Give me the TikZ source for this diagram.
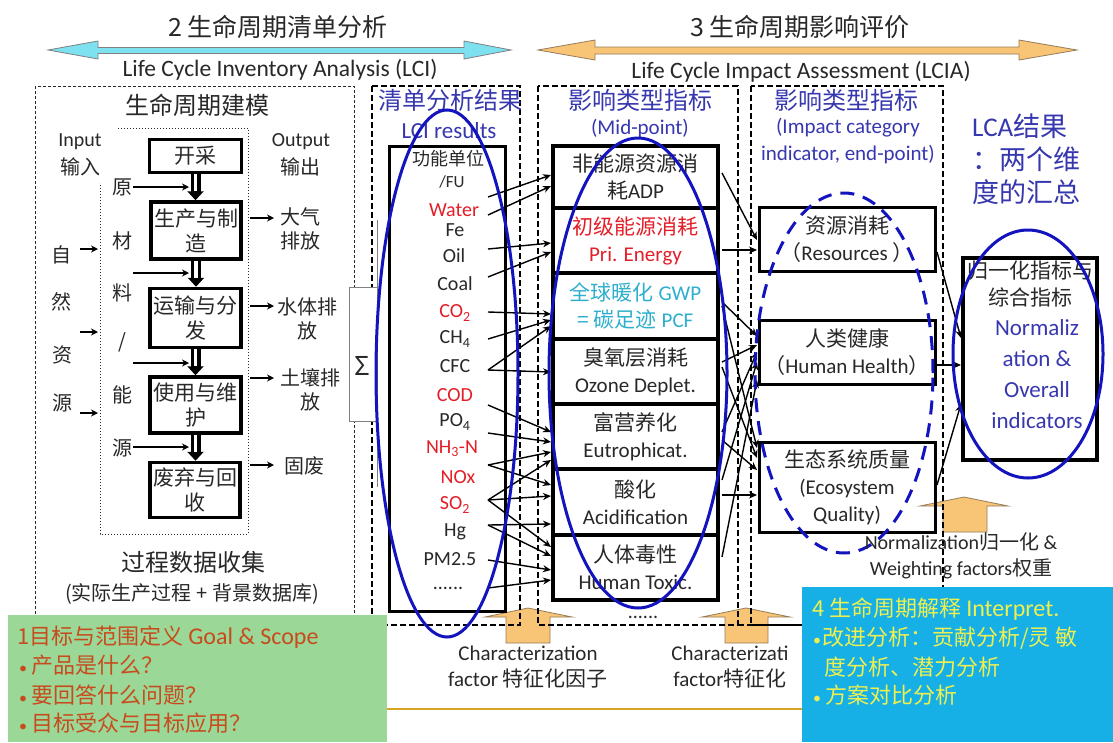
\documentclass[tikz,border=0pt]{standalone}
\usepackage{fontspec}
\setmainfont{Noto Sans CJK SC}
\newfontfamily\lat{Carlito}
\usetikzlibrary{arrows.meta}
\definecolor{tgray}{RGB}{40,40,40}
\definecolor{tblue}{RGB}{55,55,175}
\definecolor{eblue}{RGB}{20,20,190}
\definecolor{tred}{RGB}{228,30,40}
\definecolor{tcyan}{RGB}{45,175,205}
\definecolor{cyanfill}{RGB}{125,225,240}
\definecolor{orfill}{RGB}{248,196,118}
\definecolor{orline}{RGB}{150,125,90}
\definecolor{grfill}{RGB}{155,215,150}
\definecolor{grtext}{RGB}{200,75,30}
\definecolor{bxfill}{RGB}{22,175,230}
\definecolor{ytext}{RGB}{238,240,80}
\definecolor{gold}{RGB}{215,165,35}
\newcommand\fsz[2]{\fontsize{#1}{#2}\selectfont}
\newcommand\bul{{\lat\fsz{16}{16}•}}
\begin{document}
\begin{tikzpicture}[x=1pt,y=-1pt,
 lbl/.style={inner sep=0pt, text=tgray, align=center},
 blbl/.style={inner sep=0pt, text=tblue, align=center},
 pbox/.style={draw=black, line width=3.5pt, inner sep=0pt, align=center, text=tgray, font=\fsz{21}{25}},
 mbox/.style={draw=black, line width=4pt, inner sep=0pt, align=center, text=tgray, minimum width=165pt, font=\fsz{21}{27}},
 ebox/.style={draw=black, line width=3pt, inner sep=0pt, align=center, text=tgray, minimum width=176pt, font=\fsz{21}{27}},
 arr/.style={draw=black, line width=1.4pt, -{Stealth[length=8pt,width=7pt]}},
 sarr/.style={draw=black, line width=1.6pt, -{Stealth[length=7pt,width=7pt]}},
 dblo/.style={draw=black, line width=10pt, -{Triangle[length=9pt,width=16pt]}},
 dbli/.style={draw=white, line width=3.5pt, shorten >=9pt},
 dframe/.style={draw=black, line width=1.5pt, dash pattern=on 6pt off 3pt},
 blockup/.style={draw=orline, line width=0.8pt, fill=orfill},
 item/.style={lbl, font=\lat\fsz{20}{20}},
 ritem/.style={item, text=tred},
 ell/.style={draw=eblue, line width=3pt},
 side/.style={lbl, font=\fsz{20}{24}},
 gtxt/.style={anchor=west, inner sep=0pt, text=grtext, font=\fsz{22}{22}},
 ytxt/.style={anchor=west, inner sep=0pt, text=ytext, font=\fsz{22}{22}},
]
\useasboundingbox (0,0) rectangle (1113,742);
\fill[white] (0,0) rectangle (1113,742);

% ---------- headers
\node[lbl, font=\fsz{25}{25}] (h2) at (278,27) {2 生命周期清单分析};
\draw[draw=gray, line width=0.8pt, fill=cyanfill] (48,50) -- (98,41) -- (98,47.5) -- (464,47.5) -- (464,41) -- (511,50) -- (464,59) -- (464,53.5) -- (98,53.5) -- (98,59) -- cycle;
\node[lbl, font=\lat\fsz{23.5}{24}] (h2e) at (280,70) {Life Cycle Inventory Analysis (LCI)};
\node[lbl, font=\fsz{25}{25}] (h3) at (800,27) {3 生命周期影响评价};
\draw[draw=orline, line width=0.8pt, fill=orfill] (538,50) -- (595,40) -- (595,47) -- (1019,47) -- (1019,40) -- (1077,50) -- (1019,60) -- (1019,54) -- (595,54) -- (595,60) -- cycle;
\node[lbl, font=\lat\fsz{23.5}{24}] (h3e) at (801,72) {Life Cycle Impact Assessment (LCIA)};

% ---------- orange block arrows (behind frames)
\draw[blockup] (528,608) -- (572,617) -- (550,617) -- (550,643) -- (506,643) -- (506,617) -- (485,617) -- cycle;
\draw[blockup] (746,608) -- (790,617) -- (768,617) -- (768,643) -- (725,643) -- (725,617) -- (702,617) -- cycle;
\draw[blockup] (964,497) -- (1008,506) -- (987,506) -- (987,532) -- (943,532) -- (943,506) -- (920,506) -- cycle;

% ---------- frames
\draw[tgray, line width=0.8pt, dash pattern=on 3pt off 2pt] (35,86) rectangle (354,660);
\draw[dframe] (372,86) rectangle (520,625);
\draw[dframe] (538,86) rectangle (738,625);
\draw[dframe] (751,86) rectangle (943,625);
\draw[dframe] (738,625) -- (802,625);

% ---------- life cycle modelling
\node[lbl, font=\fsz{24}{24}] (lm) at (197,105) {生命周期建模};
\draw[tgray, line width=1pt, dotted] (118,128) -- (248,128) -- (248,534) -- (100,534) -- (100,183);
\node[lbl, font=\lat\fsz{20}{20}] (inp) at (80,142) {Input};
\node[lbl, font=\fsz{20}{20}] (inp2) at (80,167) {输入};
\node[lbl, font=\lat\fsz{20}{20}] (outp) at (301,142) {Output};
\node[lbl, font=\fsz{20}{20}] (outp2) at (300,167) {输出};

\node[pbox, minimum width=92pt, minimum height=33pt] (p1) at (195.5,156) {开采};
\node[pbox, minimum width=90pt, minimum height=57pt] (p2) at (196,230.5) {生产与制\\造};
\node[pbox, minimum width=91pt, minimum height=59pt] (p3) at (195.5,318) {运输与分\\发};
\node[pbox, minimum width=91pt, minimum height=56pt] (p4) at (195.5,405) {使用与维\\护};
\node[pbox, minimum width=90pt, minimum height=55pt] (p5) at (195,490) {废弃与回\\收};
\foreach \a/\b in {p1/p2,p2/p3,p3/p4,p4/p5}{
  \draw[dblo] (\a.south) -- (\a.south |- \b.north);
  \draw[dbli] (\a.south) -- (\a.south |- \b.north);
}

% natural resources column
\node[side] (n1) at (61,255) {自};
\node[side] (n2) at (61,302) {然};
\node[side] (n3) at (62,355) {资};
\node[side] (n4) at (62,403) {源};
\foreach \y [count=\n] in {249,332,413}{
  \coordinate (na\n) at (80,\y);
  \coordinate (nb\n) at (98,\y);
  \draw[sarr] (na\n) -- (nb\n);
}
% raw material / energy column
\node[side] (r1) at (122,187) {原};
\node[side] (r2) at (122,241) {材};
\node[side] (r3) at (122,293) {料};
\node[side] (r4) at (122,342) {/};
\node[side] (r5) at (122,395) {能};
\node[side] (r6) at (122,448) {源};
\foreach \y [count=\n] in {187,273,363,447}{
  \coordinate (ra\n) at (133,\y);
  \coordinate (rb\n) at (189,\y);
  \draw[sarr] (ra\n) -- (rb\n);
}
% outputs
\node[side] (o1) at (300,229) {大气\\排放};
\node[side] (o2) at (307,319) {水体排\\放};
\node[side] (o3) at (310,390) {土壤排\\放};
\node[side] (o4) at (304,466) {固废};
\foreach \y [count=\n] in {218,306,378,465}{
  \coordinate (oa\n) at (250,\y);
  \coordinate (ob\n) at (274,\y);
  \draw[sarr] (oa\n) -- (ob\n);
}
\node[lbl, font=\fsz{24}{24}] (pdc) at (193,562) {过程数据收集};
\node[lbl, font=\fsz{20}{20}] (pdc2) at (192,594) {(实际生产过程 + 背景数据库)};

% sigma
\draw[gray, line width=1pt, fill=white] (377,287) -- (349,287) -- (349,421) -- (377,421);
\draw[gray, line width=1pt] (377,220) -- (377,487);
\node[lbl, font=\fsz{26}{26}] (sig) at (362,366) {Σ};

% ---------- LCI results
\node[blbl, font=\fsz{24}{24}] (lt1) at (450,100) {清单分析结果};
\node[blbl, font=\lat\fsz{23}{23}] (lt2) at (449,131) {LCI results};
\node[draw=black, line width=3pt, minimum width=116pt, minimum height=465pt, inner sep=0pt] (lci) at (447,378.5) {};
\node[lbl, font=\fsz{18}{18}] (i1) at (448,159) {功能单位};
\node[item, font=\lat\fsz{17}{17}] (i2) at (452,182) {/FU};
\node[ritem] (i3) at (454,210) {Water};
\node[item] (i4) at (455,230) {Fe};
\node[item] (i5) at (454,256) {Oil};
\node[item] (i6) at (455,284) {Coal};
\node[ritem] (i7) at (455,313) {CO\textsubscript{2}};
\node[item] (i8) at (455,339) {CH\textsubscript{4}};
\node[item] (i9) at (455,366) {CFC};
\node[ritem] (i10) at (455,395) {COD};
\node[item] (i11) at (455,422) {PO\textsubscript{4}};
\node[ritem] (i12) at (452,449) {NH\textsubscript{3}-N};
\node[ritem] (i13) at (458,477) {NOx};
\node[ritem] (i14) at (455,505) {SO\textsubscript{2}};
\node[item] (i15) at (455,532) {Hg};
\node[item] (i16) at (450,559) {PM2.5};
\node[item] (i17) at (448,588) {......};

% ---------- mid-point
\node[blbl, font=\fsz{24}{24}] (mt1) at (640,100) {影响类型指标};
\node[blbl, font=\lat\fsz{21}{21}] (mt2) at (640,129) {(Mid-point)};
\node[mbox, minimum height=62pt] (m1) at (635.5,177) {非能源资源消\\耗{\lat ADP}};
\node[mbox, minimum height=65pt, text=tred] (m2) at (635.5,240.5) {初级能源消耗\\{\lat Pri. Energy}};
\node[mbox, minimum height=66pt, text=tcyan] (m3) at (635.5,306) {全球暖化 {\lat GWP}\\= 碳足迹 {\lat PCF}};
\node[mbox, minimum height=65pt] (m4) at (635.5,371.5) {臭氧层消耗\\{\lat Ozone Deplet.}};
\node[mbox, minimum height=65pt] (m5) at (635.5,436.5) {富营养化\\{\lat Eutrophicat.}};
\node[mbox, minimum height=66pt] (m6) at (635.5,502) {酸化\\{\lat Acidification}};
\node[mbox, minimum height=65pt] (m7) at (635.5,567.5) {人体毒性\\{\lat Human Toxic.}};
\node[item] (mdots) at (643,617) {......};

% LCI -> mid-point arrows
\foreach \a/\b [count=\n] in {197/175,215/186,249/243,277/252,312/314,339/320,370/326,370/372,405/432,433/442,465/452,465/485,500/460,500/496,500/547,525/524,525/556,560/570,588/580}{
  \coordinate (ls\n) at (488,\a);
  \coordinate (le\n) at (551,\b);
  \draw[arr] (ls\n) -- (le\n);
}

% ---------- end-point
\node[blbl, font=\fsz{24}{24}] (et1) at (846,100) {影响类型指标};
\node[blbl, font=\lat\fsz{21}{27}] (et2) at (848,141) {(Impact category\\indicator, end-point)};
\node[ebox, minimum height=64pt] (e1) at (847,239) {资源消耗\\（{\lat Resources }）};
\node[ebox, minimum height=64pt] (e2) at (847,352) {人类健康\\（{\lat Human Health}）};
\node[ebox, minimum height=90pt] (e3) at (847,487) {生态系统质量\\{\lat (Ecosystem}\\{\lat Quality)}};

% mid -> end arrows
\foreach \a/\b [count=\n] in {173/240,250/250,302/336,306/448,362/345,367/458,432/352,440/470,495/495,480/362,557/380}{
  \coordinate (ms\n) at (722,\a);
  \coordinate (me\n) at (757,\b);
  \draw[arr] (ms\n) -- (me\n);
}

% ---------- LCA result
\node[blbl, font=\fsz{27}{33}, align=left, anchor=west] (lca) at (972,159) {{\lat LCA}结果\\：两个维\\度的汇总};
\node[draw=black, line width=3.5pt, minimum width=134pt, minimum height=202pt, inner sep=0pt] (norm) at (1030,359) {};
\node[lbl, font=\fsz{21}{21}] (nt1) at (1030,271) {归一化指标与};
\node[lbl, font=\fsz{21}{21}] (nt2) at (1030,297) {综合指标};
\node[blbl, font=\lat\fsz{23}{31}] (nt3) at (1037,374) {Normaliz\\ation \&\\Overall\\indicators};
\foreach \a/\b [count=\n] in {252/338,365/365,485/404}{
  \coordinate (xs\n) at (937,\a);
  \coordinate (xe\n) at (961,\b);
  \draw[arr] (xs\n) -- (xe\n);
}

% ---------- ellipses
\draw[ell] (447,373.5) ellipse [x radius=71pt, y radius=263.5pt];
\draw[ell] (638,373) ellipse [x radius=89pt, y radius=235pt];
\draw[ell, dash pattern=on 14pt off 9pt] (844,373) ellipse [x radius=89pt, y radius=180pt];
\draw[ell] (1028,354) ellipse [x radius=75pt, y radius=124pt];

% ---------- factor labels
\node[lbl, font=\fsz{21}{26}] (c1) at (528,667) {{\lat Characterization}\\{\lat factor }特征化因子};
\node[lbl, font=\fsz{21}{26}] (c2) at (730,667) {{\lat Characterizati}\\{\lat factor}特征化};
\node[lbl, font=\fsz{20}{26}] (nw) at (961,556) {{\lat Normalization}归一化{\lat\ \&}\\{\lat Weighting factors}权重};

% ---------- bottom boxes
\draw[gold, line width=2pt] (387,709) -- (802,709);
\fill[grfill] (8,615) rectangle (387,742);
\fill[bxfill] (802,587) rectangle (1113,742);
\node[gtxt] (g1) at (17,637) {1目标与范围定义 {\lat\fsz{24}{24}Goal \& Scope}};
\node[gtxt] (g2) at (19,665) {\bul\hspace{4pt}产品是什么？};
\node[gtxt] (g3) at (19,695) {\bul\hspace{4pt}要回答什么问题？};
\node[gtxt] (g4) at (19,723) {\bul\hspace{4pt}目标受众与目标应用？};
\node[ytxt] (b1) at (812,609) {4 生命周期解释 {\lat\fsz{24}{24}Interpret.}};
\node[ytxt] (b2) at (813,638) {\bul\hspace{1pt}改进分析：贡献分析/灵 敏};
\node[ytxt] (b3) at (824,667) {度分析、潜力分析};
\node[ytxt] (b4) at (813,695) {\bul\hspace{4pt}方案对比分析};
\end{tikzpicture}
\end{document}
